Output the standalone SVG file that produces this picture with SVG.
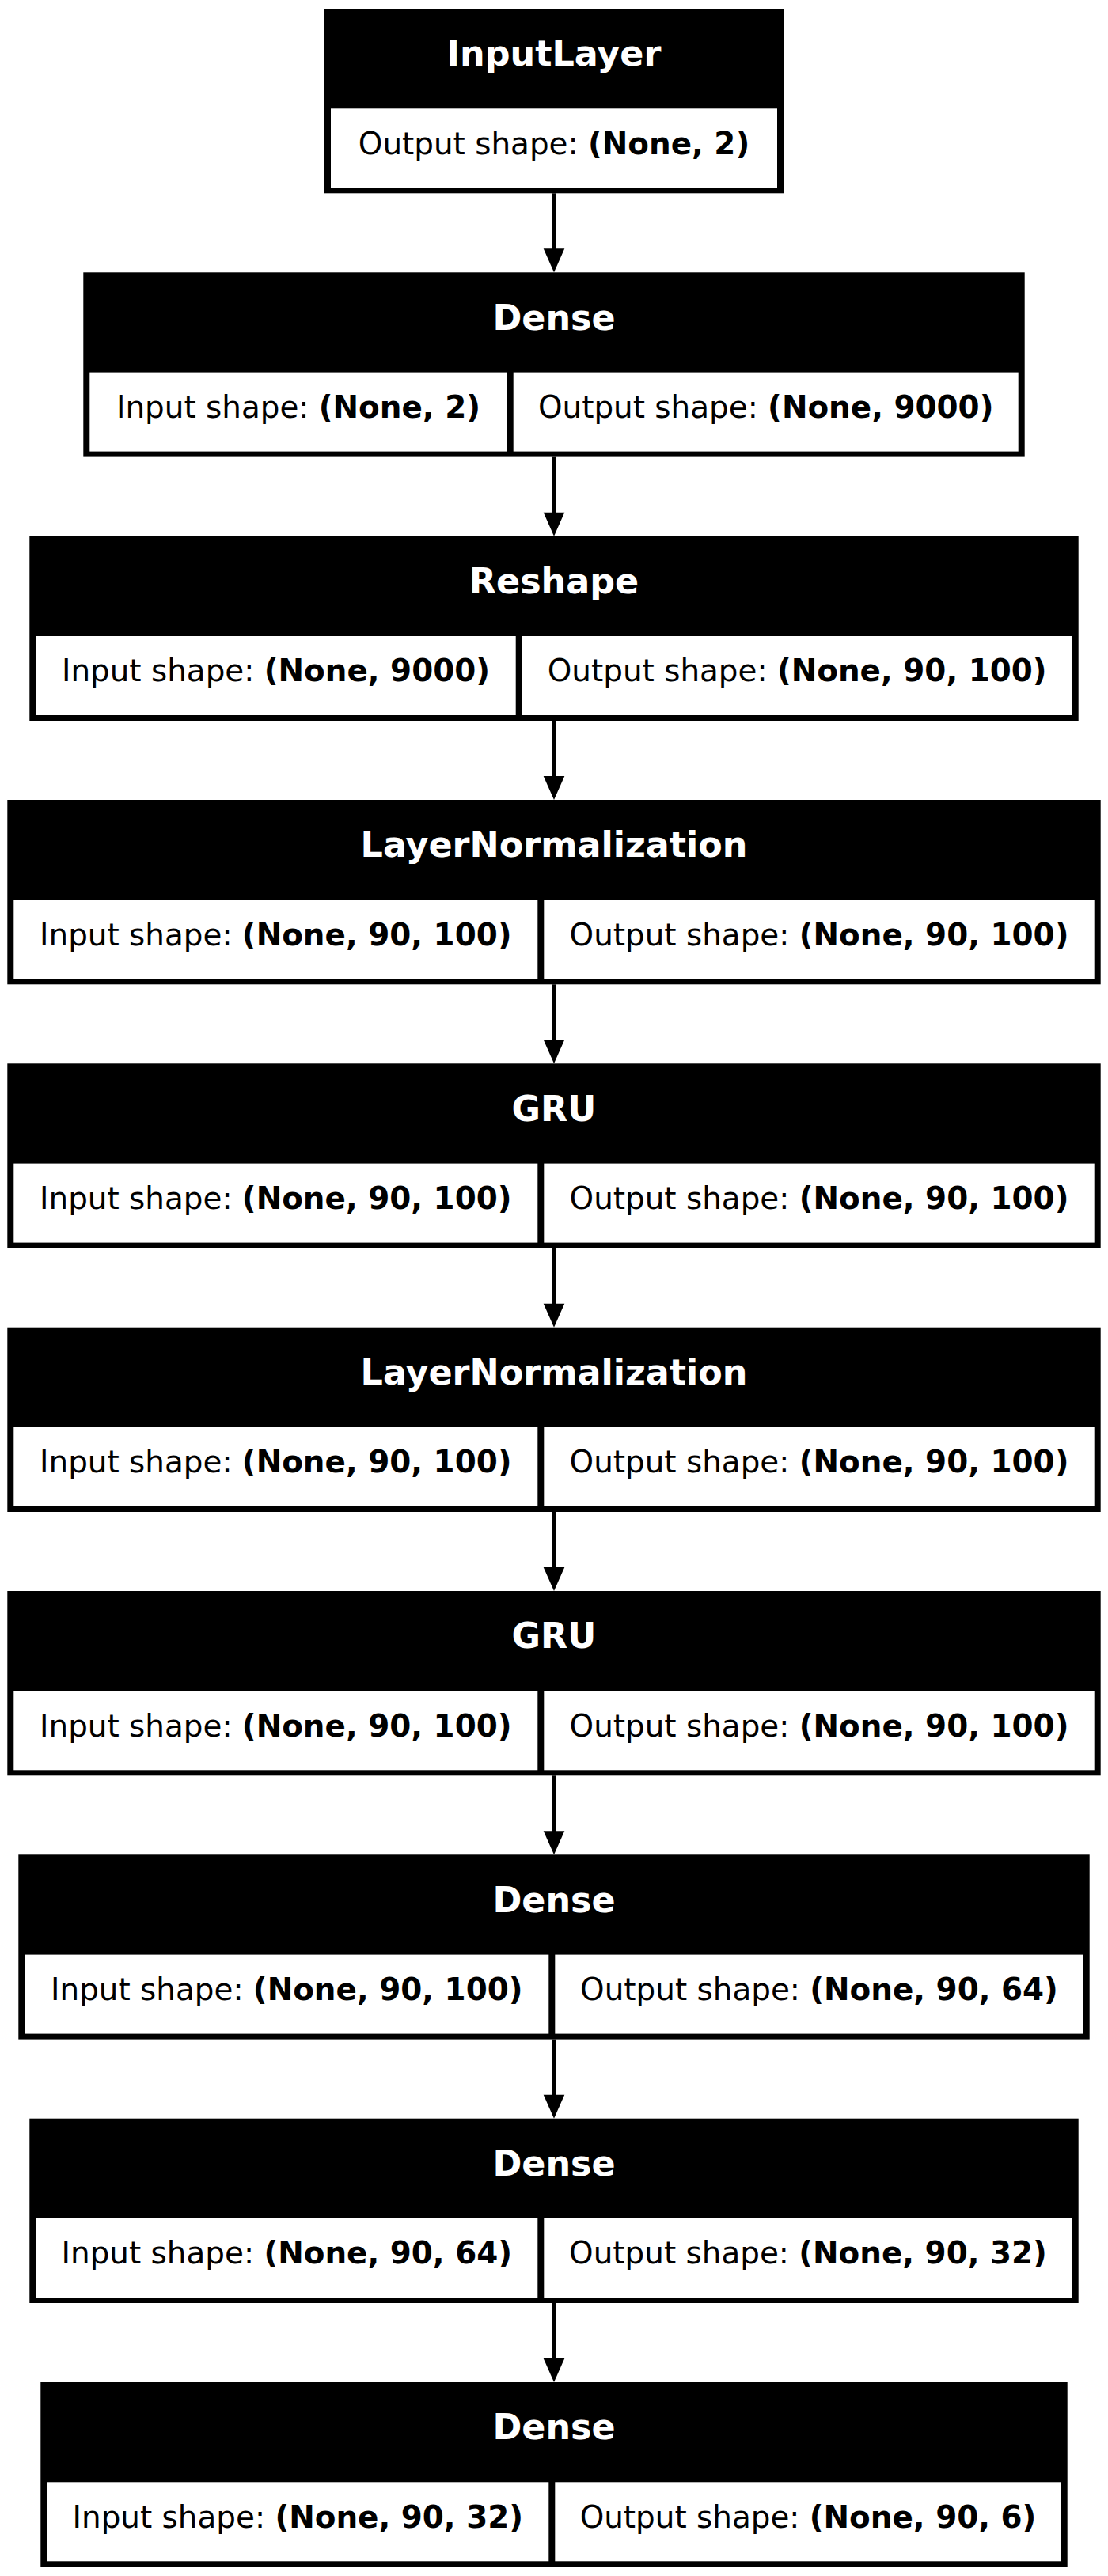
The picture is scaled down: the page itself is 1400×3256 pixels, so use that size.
<svg xmlns="http://www.w3.org/2000/svg" width="1400" height="3256" viewBox="0 0 1400 3256">
<style>
.box{fill:#000;}
.cell{fill:#fff;}
.title{font-family:"DejaVu Sans",sans-serif;font-weight:bold;font-size:44.44px;fill:#fff;text-anchor:middle;}
.shape{font-family:"DejaVu Sans",sans-serif;font-size:38.89px;fill:#000;text-anchor:middle;}
.b{font-weight:bold;}
.edge{stroke:#000;stroke-width:5;fill:none;}
.head{fill:#000;}
</style>
<rect width="1400" height="3256" fill="#fff"/>
<g id="connectors">
<line class="edge" x1="700" y1="244.3" x2="700" y2="318"/><polygon class="head" points="686.7,314.3 713.3,314.3 700,344.3"/>
<line class="edge" x1="700" y1="577.6" x2="700" y2="651"/><polygon class="head" points="686.7,647.7 713.3,647.7 700,677.7"/>
<line class="edge" x1="700" y1="911" x2="700" y2="985"/><polygon class="head" points="686.7,981 713.3,981 700,1011"/>
<line class="edge" x1="700" y1="1244.3" x2="700" y2="1318"/><polygon class="head" points="686.7,1314.3 713.3,1314.3 700,1344.3"/>
<line class="edge" x1="700" y1="1577.6" x2="700" y2="1651"/><polygon class="head" points="686.7,1647.7 713.3,1647.7 700,1677.7"/>
<line class="edge" x1="700" y1="1911" x2="700" y2="1985"/><polygon class="head" points="686.7,1981 713.3,1981 700,2011"/>
<line class="edge" x1="700" y1="2244.3" x2="700" y2="2318"/><polygon class="head" points="686.7,2314.3 713.3,2314.3 700,2344.3"/>
<line class="edge" x1="700" y1="2577.6" x2="700" y2="2651"/><polygon class="head" points="686.7,2647.7 713.3,2647.7 700,2677.7"/>
<line class="edge" x1="700" y1="2911" x2="700" y2="2985"/><polygon class="head" points="686.7,2981 713.3,2981 700,3011"/>
</g>
<g id="node1">
<rect class="box" x="409.3" y="11" width="581.4" height="233.3"/>
<rect class="cell" x="418" y="137.3" width="564" height="100"/>
<text class="title" x="700" y="83.3">InputLayer</text>
<text class="shape" x="700" y="194.7">Output shape: <tspan class="b">(None, 2)</tspan></text>
</g>
<g id="node2">
<rect class="box" x="105.3" y="344.3" width="1189.4" height="233.3"/>
<rect class="cell" x="113.3" y="470.6" width="527.4" height="100"/>
<rect class="cell" x="648.7" y="470.6" width="638" height="100"/>
<text class="title" x="700" y="416.6">Dense</text>
<text class="shape" x="377" y="528">Input shape: <tspan class="b">(None, 2)</tspan></text>
<text class="shape" x="967.7" y="528">Output shape: <tspan class="b">(None, 9000)</tspan></text>
</g>
<g id="node3">
<rect class="box" x="37.3" y="677.7" width="1325.4" height="233.3"/>
<rect class="cell" x="45.3" y="804" width="606.4" height="100"/>
<rect class="cell" x="659.7" y="804" width="695" height="100"/>
<text class="title" x="700" y="750">Reshape</text>
<text class="shape" x="348.5" y="861.4">Input shape: <tspan class="b">(None, 9000)</tspan></text>
<text class="shape" x="1007.2" y="861.4">Output shape: <tspan class="b">(None, 90, 100)</tspan></text>
</g>
<g id="node4">
<rect class="box" x="9.3" y="1011" width="1381.4" height="233.3"/>
<rect class="cell" x="17.3" y="1137.3" width="662" height="100"/>
<rect class="cell" x="687.3" y="1137.3" width="695.4" height="100"/>
<text class="title" x="700" y="1083.3">LayerNormalization</text>
<text class="shape" x="348.3" y="1194.7">Input shape: <tspan class="b">(None, 90, 100)</tspan></text>
<text class="shape" x="1035" y="1194.7">Output shape: <tspan class="b">(None, 90, 100)</tspan></text>
</g>
<g id="node5">
<rect class="box" x="9.3" y="1344.3" width="1381.4" height="233.3"/>
<rect class="cell" x="17.3" y="1470.6" width="662" height="100"/>
<rect class="cell" x="687.3" y="1470.6" width="695.4" height="100"/>
<text class="title" x="700" y="1416.6">GRU</text>
<text class="shape" x="348.3" y="1528">Input shape: <tspan class="b">(None, 90, 100)</tspan></text>
<text class="shape" x="1035" y="1528">Output shape: <tspan class="b">(None, 90, 100)</tspan></text>
</g>
<g id="node6">
<rect class="box" x="9.3" y="1677.7" width="1381.4" height="233.3"/>
<rect class="cell" x="17.3" y="1804" width="662" height="100"/>
<rect class="cell" x="687.3" y="1804" width="695.4" height="100"/>
<text class="title" x="700" y="1750">LayerNormalization</text>
<text class="shape" x="348.3" y="1861.4">Input shape: <tspan class="b">(None, 90, 100)</tspan></text>
<text class="shape" x="1035" y="1861.4">Output shape: <tspan class="b">(None, 90, 100)</tspan></text>
</g>
<g id="node7">
<rect class="box" x="9.3" y="2011" width="1381.4" height="233.3"/>
<rect class="cell" x="17.3" y="2137.3" width="662" height="100"/>
<rect class="cell" x="687.3" y="2137.3" width="695.4" height="100"/>
<text class="title" x="700" y="2083.3">GRU</text>
<text class="shape" x="348.3" y="2194.7">Input shape: <tspan class="b">(None, 90, 100)</tspan></text>
<text class="shape" x="1035" y="2194.7">Output shape: <tspan class="b">(None, 90, 100)</tspan></text>
</g>
<g id="node8">
<rect class="box" x="23.3" y="2344.3" width="1353.4" height="233.3"/>
<rect class="cell" x="31.3" y="2470.6" width="662" height="100"/>
<rect class="cell" x="701.3" y="2470.6" width="667.4" height="100"/>
<text class="title" x="700" y="2416.6">Dense</text>
<text class="shape" x="362.3" y="2528">Input shape: <tspan class="b">(None, 90, 100)</tspan></text>
<text class="shape" x="1035" y="2528">Output shape: <tspan class="b">(None, 90, 64)</tspan></text>
</g>
<g id="node9">
<rect class="box" x="37.3" y="2677.7" width="1325.4" height="233.3"/>
<rect class="cell" x="45.3" y="2804" width="634" height="100"/>
<rect class="cell" x="687.3" y="2804" width="667.4" height="100"/>
<text class="title" x="700" y="2750">Dense</text>
<text class="shape" x="362.3" y="2861.4">Input shape: <tspan class="b">(None, 90, 64)</tspan></text>
<text class="shape" x="1021" y="2861.4">Output shape: <tspan class="b">(None, 90, 32)</tspan></text>
</g>
<g id="node10">
<rect class="box" x="51.3" y="3011" width="1297.4" height="233.3"/>
<rect class="cell" x="59.3" y="3137.3" width="634" height="100"/>
<rect class="cell" x="701.3" y="3137.3" width="639.4" height="100"/>
<text class="title" x="700" y="3083.3">Dense</text>
<text class="shape" x="376.3" y="3194.7">Input shape: <tspan class="b">(None, 90, 32)</tspan></text>
<text class="shape" x="1021" y="3194.7">Output shape: <tspan class="b">(None, 90, 6)</tspan></text>
</g>
</svg>
